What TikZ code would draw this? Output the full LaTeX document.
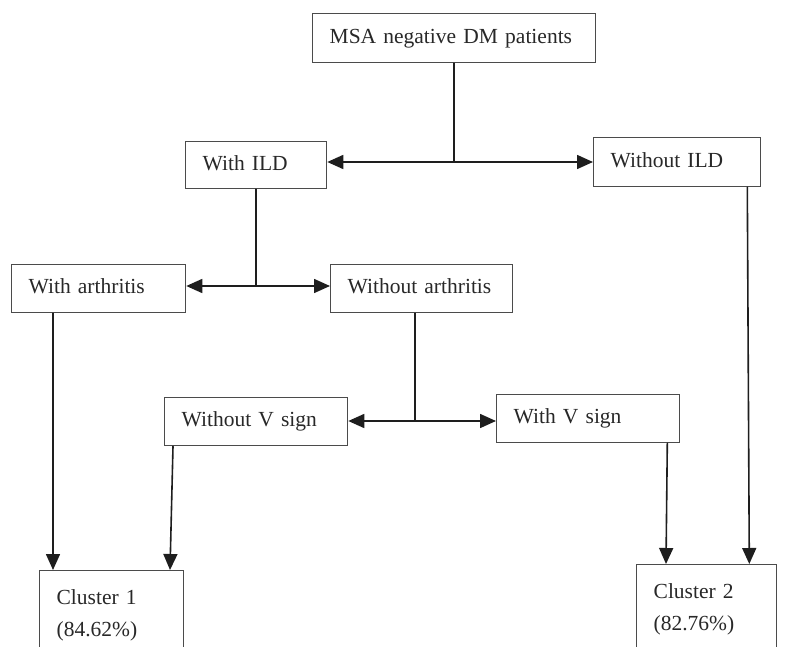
\documentclass[tikz,border=0pt]{standalone}
\usepackage{fontspec}
\setmainfont[WordSpace=0.8]{Liberation Serif}
\usetikzlibrary{arrows.meta}
\begin{document}
\begin{tikzpicture}[x=1pt,y=1pt,
  boxnode/.style={draw=boxColor,line width=1.3pt,rectangle,anchor=north west,
    inner xsep=17pt,inner ysep=0pt,align=left,text=textColor,
    text height=15pt,text depth=5pt,
    font=\fontsize{21.5}{32}\selectfont},
  clusternode/.style={boxnode,inner ysep=19pt,text height=,text depth=},
  link/.style={draw=drawColor,line width=1.6pt,line cap=round},
  tip/.style={-{Triangle[length=16pt,width=14pt]}},
  twotip/.style={{Triangle[length=16pt,width=14pt]}-{Triangle[length=16pt,width=14pt]}}]
\definecolor{fillColor}{RGB}{255,255,255}
\definecolor{boxColor}{RGB}{75,75,75}
\definecolor{drawColor}{RGB}{30,30,30}
\definecolor{textColor}{RGB}{40,40,40}
\path[use as bounding box,fill=fillColor] (0,0) rectangle (786,646);
\begin{scope}
\path[clip] (0,0) rectangle (786,646);

\node[boxnode,minimum width=283pt,minimum height=49pt,text width=249pt] (msa) at (312,633) {MSA negative DM patients};

\node[boxnode,minimum width=141pt,minimum height=47pt,text width=107pt] (withild) at (185,505) {With ILD};

\node[boxnode,minimum width=167pt,minimum height=49pt,text width=133pt] (withoutild) at (593,509) {Without ILD};

\node[boxnode,minimum width=174pt,minimum height=48pt,text width=140pt] (witharth) at (11,382) {With arthritis};

\node[boxnode,minimum width=182pt,minimum height=48pt,text width=148pt] (withoutarth) at (330,382) {Without arthritis};

\node[boxnode,minimum width=183pt,minimum height=48pt,text width=149pt] (withoutvsign) at (164,249) {Without V sign};

\node[boxnode,minimum width=183pt,minimum height=48pt,text width=149pt] (withvsign) at (496,252) {With V sign};

\node[clusternode,minimum width=144pt,text width=110pt] (clusterone) at (39,76) {Cluster 1\\(84.62\%)};

\node[clusternode,minimum width=140pt,text width=106pt] (clustertwo) at (636,82) {Cluster 2\\(82.76\%)};

\coordinate (splitild) at (453,484);
\coordinate (splitarth) at (257,360);
\coordinate (splitvsign) at (415,225);

\path[link] (msa.south) -- (msa.south |- splitild);

\path[link,twotip] (withild.east |- splitild) -- (withoutild.west |- splitild);

\path[link] (withild.south) -- (withild.south |- splitarth);

\path[link,twotip] (witharth.east |- splitarth) -- (withoutarth.west |- splitarth);

\path[link] (splitvsign |- withoutarth.south) -- (splitvsign);

\path[link,twotip] (withoutvsign.east |- splitvsign) -- (withvsign.west |- splitvsign);

\path[link,tip] ([xshift=42pt]witharth.south west) -- ([xshift=14pt]clusterone.north west);

\path[link,tip] ([xshift=9pt]withoutvsign.south west) -- ([xshift=131pt]clusterone.north west);

\path[link,tip] ([xshift=-13pt]withvsign.south east) -- ([xshift=30pt]clustertwo.north west);

\path[link,tip] ([xshift=-14pt]withoutild.south east) -- ([xshift=-28pt]clustertwo.north east);
\end{scope}
\end{tikzpicture}
\end{document}
